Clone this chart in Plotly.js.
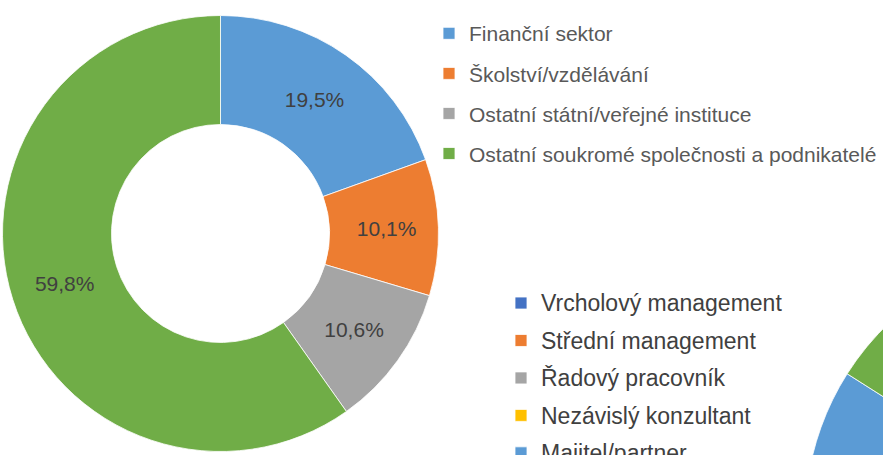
<!DOCTYPE html>
<html>
<head>
<meta charset="utf-8">
<script src="https://cdn.plot.ly/plotly-3.0.1.min.js"></script>
<style>
  html, body { margin: 0; padding: 0; overflow: hidden; background: #ffffff; }
  #wrap { width: 883px; height: 455px; overflow: hidden; position: relative; }
</style>
</head>
<body>
<div id="wrap"><div id="chart"></div></div>
<script>
// Chart 1: sector breakdown (donut)
const sectorLabels = [
  'Finanční sektor',
  'Školství/vzdělávání',
  'Ostatní státní/veřejné instituce',
  'Ostatní soukromé společnosti a podnikatelé'
];
const sectorValues = [19.5, 10.1, 10.6, 59.8];
const sectorColors = ['#5B9BD5', '#ED7D31', '#A5A5A5', '#70AD47'];

// Chart 2: position (cropped at the right edge of the picture; hidden slices estimated)
const positionLabels = [
  'Vrcholový management',
  'Střední management',
  'Řadový pracovník',
  'Nezávislý konzultant',
  'Majitel/partner',
  'Jiné'
];
const positionValues = [12, 25, 20, 13, 14, 16];
const positionColors = ['#4472C4', '#ED7D31', '#A5A5A5', '#FFC000', '#5B9BD5', '#70AD47'];

const W = 1400, H = 850;
function dom(cx, cy, r) {
  return { x: [(cx - r) / W, (cx + r) / W], y: [1 - (cy + r) / H, 1 - (cy - r) / H] };
}
function wrapLabel(t, size, shift) {
  return '<span style="font-size:' + size + 'px;baseline-shift:' + shift + 'px">' + t + '</span>';
}

const font = '"Liberation Sans", Arial, Helvetica, sans-serif';

const data = [
  {
    type: 'pie',
    labels: sectorLabels.map(t => wrapLabel(t, 21, 3)),
    values: sectorValues,
    marker: { colors: sectorColors, line: { color: '#ffffff', width: 0.8 } },
    hole: 0.5,
    sort: false,
    direction: 'clockwise',
    rotation: 0,
    domain: dom(220.5, 233.5, 218),
    textinfo: 'percent',
    texttemplate: '%{percent:.1%}',
    textposition: 'inside',
    insidetextorientation: 'horizontal',
    textfont: { family: font, size: 21, color: '#404040' },
    hoverinfo: 'none',
    legend: 'legend'
  },
  {
    type: 'pie',
    labels: positionLabels.map(t => wrapLabel(t, 23, 2)),
    values: positionValues,
    marker: { colors: positionColors, line: { color: '#ffffff', width: 0.8 } },
    sort: false,
    direction: 'clockwise',
    rotation: 0,
    domain: dom(1076, 519, 271),
    textinfo: 'none',
    hoverinfo: 'none',
    legend: 'legend2'
  }
];

const layout = {
  width: W,
  height: H,
  margin: { l: 0, r: 0, t: 0, b: 0 },
  paper_bgcolor: '#ffffff',
  separators: ', ',
  font: { family: font, color: '#595959' },
  legend: {
    x: 429 / W, xanchor: 'left',
    y: 1 - 8.3 / H, yanchor: 'top',
    font: { family: font, size: 28.5, color: '#595959' },
    bgcolor: 'rgba(0,0,0,0)',
    borderwidth: 0
  },
  legend2: {
    x: 501 / W, xanchor: 'left',
    y: 1 - 279.3 / H, yanchor: 'top',
    font: { family: font, size: 26.5, color: '#404040' },
    bgcolor: 'rgba(0,0,0,0)',
    borderwidth: 0
  }
};

Plotly.newPlot('chart', data, layout, { displayModeBar: false, staticPlot: true });
</script>
</body>
</html>
